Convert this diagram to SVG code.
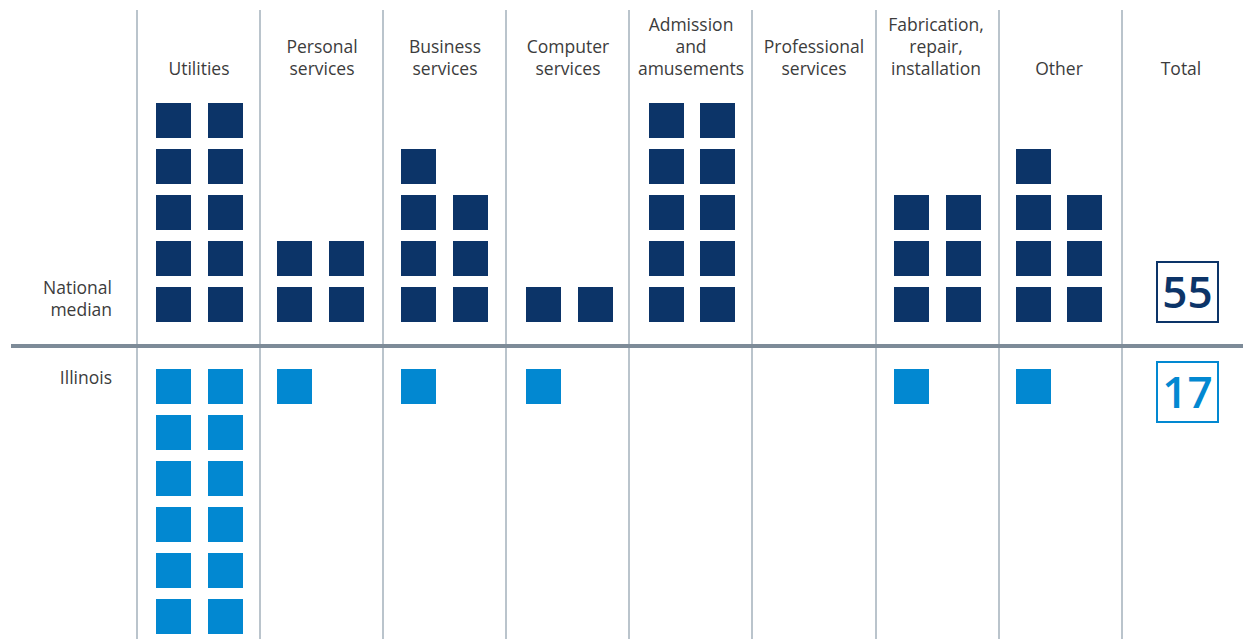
<svg xmlns="http://www.w3.org/2000/svg" width="1243" height="639" viewBox="0 0 1243 639">
<style>
.hd{font-family:"Open Sans","Noto Sans",sans-serif;font-size:17.5px;fill:#3c3c3c;text-anchor:middle}
.rl{font-family:"Open Sans","Noto Sans",sans-serif;font-size:17.5px;fill:#3c3c3c;text-anchor:end}
.n{fill:#0c3468}
.l{fill:#0288d1}
.vl{stroke:#a3b0bb;stroke-width:1.5}
.tot{font-family:"Open Sans","Noto Sans",sans-serif;font-size:44px;font-weight:600;text-anchor:middle}
</style>
<defs>
<rect id="sq" width="35" height="35"/>
</defs>
<rect width="1243" height="639" fill="#ffffff"/>
<g id="grid">
<line class="vl" x1="137" y1="10" x2="137" y2="639"/>
<line class="vl" x1="260" y1="10" x2="260" y2="639"/>
<line class="vl" x1="383" y1="10" x2="383" y2="639"/>
<line class="vl" x1="506" y1="10" x2="506" y2="639"/>
<line class="vl" x1="629" y1="10" x2="629" y2="639"/>
<line class="vl" x1="752" y1="10" x2="752" y2="639"/>
<line class="vl" x1="876" y1="10" x2="876" y2="639"/>
<line class="vl" x1="999" y1="10" x2="999" y2="639"/>
<line class="vl" x1="1122" y1="10" x2="1122" y2="639"/>
<line x1="11" y1="346" x2="1243" y2="346" stroke="#7d8b98" stroke-width="4"/>
</g>
<g id="headers">
<text class="hd" x="199" y="75">Utilities</text>
<text class="hd" x="322" y="53">Personal</text>
<text class="hd" x="322" y="75">services</text>
<text class="hd" x="445" y="53">Business</text>
<text class="hd" x="445" y="75">services</text>
<text class="hd" x="568" y="53">Computer</text>
<text class="hd" x="568" y="75">services</text>
<text class="hd" x="691" y="31">Admission</text>
<text class="hd" x="691" y="53">and</text>
<text class="hd" x="691" y="75">amusements</text>
<text class="hd" x="814" y="53">Professional</text>
<text class="hd" x="814" y="75">services</text>
<text class="hd" x="936" y="31">Fabrication,</text>
<text class="hd" x="936" y="53">repair,</text>
<text class="hd" x="936" y="75">installation</text>
<text class="hd" x="1059" y="75">Other</text>
<text class="hd" x="1181" y="75">Total</text>
</g>
<g id="row-labels">
<text class="rl" x="112" y="294">National</text>
<text class="rl" x="112" y="316">median</text>
<text class="rl" x="112" y="384">Illinois</text>
</g>
<g id="national" class="n">
<use href="#sq" x="156" y="103"/><use href="#sq" x="208" y="103"/>
<use href="#sq" x="156" y="149"/><use href="#sq" x="208" y="149"/>
<use href="#sq" x="156" y="195"/><use href="#sq" x="208" y="195"/>
<use href="#sq" x="156" y="241"/><use href="#sq" x="208" y="241"/>
<use href="#sq" x="156" y="287"/><use href="#sq" x="208" y="287"/>
<use href="#sq" x="277" y="241"/><use href="#sq" x="329" y="241"/>
<use href="#sq" x="277" y="287"/><use href="#sq" x="329" y="287"/>
<use href="#sq" x="401" y="149"/>
<use href="#sq" x="401" y="195"/><use href="#sq" x="453" y="195"/>
<use href="#sq" x="401" y="241"/><use href="#sq" x="453" y="241"/>
<use href="#sq" x="401" y="287"/><use href="#sq" x="453" y="287"/>
<use href="#sq" x="526" y="287"/><use href="#sq" x="578" y="287"/>
<use href="#sq" x="649" y="103"/><use href="#sq" x="700" y="103"/>
<use href="#sq" x="649" y="149"/><use href="#sq" x="700" y="149"/>
<use href="#sq" x="649" y="195"/><use href="#sq" x="700" y="195"/>
<use href="#sq" x="649" y="241"/><use href="#sq" x="700" y="241"/>
<use href="#sq" x="649" y="287"/><use href="#sq" x="700" y="287"/>
<use href="#sq" x="894" y="195"/><use href="#sq" x="946" y="195"/>
<use href="#sq" x="894" y="241"/><use href="#sq" x="946" y="241"/>
<use href="#sq" x="894" y="287"/><use href="#sq" x="946" y="287"/>
<use href="#sq" x="1016" y="149"/>
<use href="#sq" x="1016" y="195"/><use href="#sq" x="1067" y="195"/>
<use href="#sq" x="1016" y="241"/><use href="#sq" x="1067" y="241"/>
<use href="#sq" x="1016" y="287"/><use href="#sq" x="1067" y="287"/>
</g>
<g id="illinois" class="l">
<use href="#sq" x="156" y="369"/><use href="#sq" x="208" y="369"/>
<use href="#sq" x="156" y="415"/><use href="#sq" x="208" y="415"/>
<use href="#sq" x="156" y="461"/><use href="#sq" x="208" y="461"/>
<use href="#sq" x="156" y="507"/><use href="#sq" x="208" y="507"/>
<use href="#sq" x="156" y="553"/><use href="#sq" x="208" y="553"/>
<use href="#sq" x="156" y="599"/><use href="#sq" x="208" y="599"/>
<use href="#sq" x="277" y="369"/>
<use href="#sq" x="401" y="369"/>
<use href="#sq" x="526" y="369"/>
<use href="#sq" x="894" y="369"/>
<use href="#sq" x="1016" y="369"/>
</g>
<g id="total-national">
<rect x="1157" y="262" width="61" height="60" fill="none" stroke="#0c3468" stroke-width="2"/>
<text class="tot" x="1187.5" y="308" fill="#0c3468">55</text>
</g>
<g id="total-illinois">
<rect x="1157" y="362" width="61" height="60" fill="none" stroke="#0288d1" stroke-width="2"/>
<text class="tot" x="1187.5" y="408" fill="#0288d1">17</text>
</g>
</svg>
